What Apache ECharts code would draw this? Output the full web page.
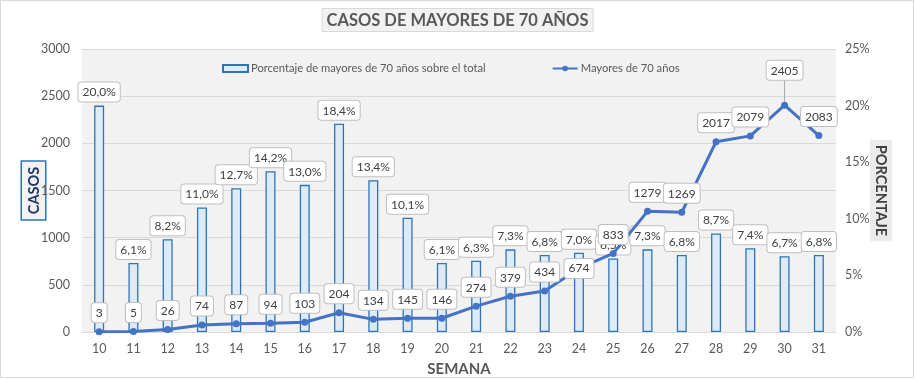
<!DOCTYPE html>
<html><head><meta charset="utf-8">
<script src="https://cdn.jsdelivr.net/npm/echarts@6/dist/echarts.min.js"></script>
<style>html,body{margin:0;padding:0;background:#fff}#c{width:915px;height:379px}</style>
</head><body><div id="c"></div>
<script>
var weeks = ['10','11','12','13','14','15','16','17','18','19','20','21','22','23','24','25','26','27','28','29','30','31'];
var pctOver70 = [20.0,6.1,8.2,11.0,12.7,14.2,13.0,18.4,13.4,10.1,6.1,6.3,7.3,6.8,7.0,6.5,7.3,6.8,8.7,7.4,6.7,6.8];
var casesOver70 = [3,5,26,74,87,94,103,204,134,145,146,274,379,434,674,833,1279,1269,2017,2079,2405,2083];
var leftTicks = [0,500,1000,1500,2000,2500,3000];
var rightTicks = [0,5,10,15,20,25];

var FONT = 'Lato';
var labelBox = {
  backgroundColor: '#ffffff', borderColor: '#bfbfbf', borderWidth: 1, borderRadius: 3,
  padding: [4, 4, 3, 4], color: '#404040', fontSize: 12, fontFamily: FONT
};
var lineData = casesOver70.map(function (v, i) {
  var d = { value: v };
  if (i === 14) d.label = { position: 'inside', offset: [0, 6] };
  if (i === 20) d.labelLine = { show: true, lineStyle: { color: '#a6a6a6', width: 1 } };
  return d;
});

var chart = echarts.init(document.getElementById('c'));
chart.setOption({
  animation: false,
  textStyle: { fontFamily: FONT },
  graphic: [{
    type: 'rect', shape: { x: 0.5, y: 0.5, width: 913, height: 377 },
    style: { fill: 'none', stroke: '#d9d9d9', lineWidth: 1 }, z: -1
  }],
  title: {
    text: 'CASOS DE MAYORES DE 70 AÑOS', left: 'center', top: 8,
    backgroundColor: '#f2f2f2', borderColor: '#d9d9d9', borderWidth: 1,
    padding: [4, 5, 3, 5],
    textStyle: { fontSize: 16.5, fontWeight: 'bold', color: '#595959', fontFamily: FONT }
  },
  legend: {
    left: 222, top: 63, padding: 0, itemGap: 66, itemWidth: 25, itemHeight: 7,
    textStyle: { fontSize: 11.2, color: '#595959', fontFamily: FONT, padding: [0, 0, 0, -2] },
    data: [
      { name: 'Porcentaje de mayores de 70 años sobre el total', icon: 'rect' },
      { name: 'Mayores de 70 años' }
    ]
  },
  grid: { left: 82, right: 79, top: 49, bottom: 47, outerBoundsMode: 'none', containLabel: false,
    show: true, backgroundColor: '#f2f2f2', borderWidth: 0 },
  xAxis: {
    type: 'category', data: weeks,
    name: 'SEMANA', nameLocation: 'middle', nameGap: 30, nameMoveOverlap: false,
    nameTextStyle: { fontSize: 15, fontWeight: 'bold', color: '#595959', fontFamily: FONT },
    axisLine: { lineStyle: { color: '#d9d9d9' } }, axisTick: { show: false },
    axisLabel: { color: '#595959', fontSize: 12.5, margin: 10 }
  },
  yAxis: [{
    type: 'value', min: leftTicks[0], max: leftTicks[leftTicks.length - 1], interval: 500,
    name: 'CASOS', nameLocation: 'middle', nameGap: 37, nameRotate: 90, nameMoveOverlap: false,
    nameTextStyle: { fontSize: 14.5, fontWeight: 'bold', color: '#203864', fontFamily: FONT,
      backgroundColor: '#f2f2f2', borderColor: '#2e75b6', borderWidth: 1.5, padding: [5, 5, 3, 5] },
    axisLine: { show: false }, axisTick: { show: false },
    axisLabel: { color: '#595959', fontSize: 12.5, margin: 12, formatter: function (v) { return String(v); } },
    splitLine: { lineStyle: { color: '#d9d9d9' } }
  }, {
    type: 'value', min: rightTicks[0], max: rightTicks[rightTicks.length - 1], interval: 5,
    name: 'PORCENTAJE', nameLocation: 'middle', nameGap: 34, nameRotate: -90, nameMoveOverlap: false,
    nameTextStyle: { fontSize: 14.5, fontWeight: 'bold', color: '#404040', fontFamily: FONT,
      backgroundColor: '#ebebeb', padding: [4, 5, 3, 5] },
    axisLine: { show: false }, axisTick: { show: false },
    axisLabel: { color: '#595959', fontSize: 12.5, margin: 9, formatter: '{value}%' },
    splitLine: { show: false }
  }],
  series: [{
    name: 'Porcentaje de mayores de 70 años sobre el total',
    type: 'bar', yAxisIndex: 1, data: pctOver70, barWidth: 10,
    itemStyle: { color: '#deebf7', borderColor: '#2e75b6', borderWidth: 1.3 },
    label: Object.assign({ show: true, position: 'top', distance: 4,
      formatter: function (p) { return p.value.toFixed(1).replace('.', ',') + '%'; } }, labelBox),
    z: 2
  }, {
    name: 'Mayores de 70 años',
    type: 'line', yAxisIndex: 0, data: lineData,
    lineStyle: { color: '#4472c4', width: 3 }, itemStyle: { color: '#4472c4' },
    symbol: 'circle', symbolSize: 7,
    label: Object.assign({ show: true, position: 'top', distance: 6 }, labelBox),
    labelLayout: function (p) { return p.dataIndex === 20 ? { dy: -16 } : {}; },
    z: 3
  }]
});
</script></body></html>
